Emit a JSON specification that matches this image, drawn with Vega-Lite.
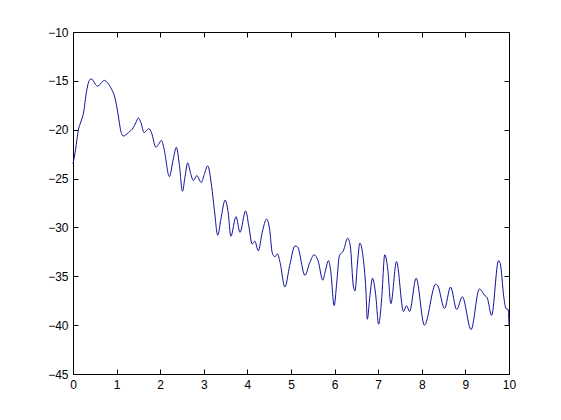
{
  "$schema": "https://vega.github.io/schema/vega-lite/v6.json",
  "autosize": "none",
  "width": 436,
  "height": 342,
  "padding": {"left": 73, "top": 32, "right": 52, "bottom": 46},
  "background": "white",
  "config": {
    "view": {"stroke": "black", "strokeWidth": 1},
    "axis": {
      "domain": false,
      "grid": false,
      "ticks": true,
      "tickColor": "black",
      "tickSize": -5,
      "labelPadding": 10,
      "labelFlush": false,
      "labelOverlap": false,
      "labelFont": "Liberation Sans",
      "labelFontSize": 12,
      "labelColor": "black",
      "title": null
    }
  },
  "data": {
    "values": [
      {"x": 0, "y": -23.5}, {"x": 0.06, "y": -22.0}, {"x": 0.12, "y": -20.1}, {"x": 0.18, "y": -19.2},
      {"x": 0.24, "y": -18.3}, {"x": 0.31, "y": -16.1}, {"x": 0.36, "y": -15.1}, {"x": 0.41, "y": -14.8},
      {"x": 0.46, "y": -14.95}, {"x": 0.52, "y": -15.4}, {"x": 0.57, "y": -15.55}, {"x": 0.63, "y": -15.3},
      {"x": 0.72, "y": -14.95}, {"x": 0.79, "y": -15.2}, {"x": 0.89, "y": -15.9}, {"x": 0.96, "y": -16.7},
      {"x": 1.04, "y": -18.6}, {"x": 1.09, "y": -20.0}, {"x": 1.15, "y": -20.65}, {"x": 1.27, "y": -20.3},
      {"x": 1.38, "y": -19.8}, {"x": 1.44, "y": -19.3}, {"x": 1.5, "y": -18.8}, {"x": 1.56, "y": -19.3},
      {"x": 1.63, "y": -20.3}, {"x": 1.68, "y": -20.1}, {"x": 1.74, "y": -19.9}, {"x": 1.8, "y": -20.3},
      {"x": 1.9, "y": -21.8}, {"x": 1.96, "y": -21.5}, {"x": 2.03, "y": -21.1}, {"x": 2.09, "y": -22.0},
      {"x": 2.21, "y": -24.8}, {"x": 2.3, "y": -23.0}, {"x": 2.37, "y": -21.8}, {"x": 2.44, "y": -23.6},
      {"x": 2.51, "y": -26.3}, {"x": 2.57, "y": -24.8}, {"x": 2.63, "y": -23.4}, {"x": 2.7, "y": -24.5},
      {"x": 2.76, "y": -25.2}, {"x": 2.84, "y": -24.7}, {"x": 2.94, "y": -25.4}, {"x": 3.01, "y": -24.6},
      {"x": 3.09, "y": -23.7}, {"x": 3.18, "y": -25.8}, {"x": 3.24, "y": -28.1}, {"x": 3.32, "y": -30.8},
      {"x": 3.39, "y": -29.2}, {"x": 3.49, "y": -27.2}, {"x": 3.56, "y": -28.5}, {"x": 3.62, "y": -30.9},
      {"x": 3.74, "y": -28.9}, {"x": 3.83, "y": -30.5}, {"x": 3.96, "y": -28.3}, {"x": 4.03, "y": -29.8},
      {"x": 4.11, "y": -31.7}, {"x": 4.17, "y": -31.4}, {"x": 4.25, "y": -32.4}, {"x": 4.34, "y": -30.5},
      {"x": 4.44, "y": -29.15}, {"x": 4.51, "y": -30.2}, {"x": 4.57, "y": -32.6}, {"x": 4.63, "y": -33.0},
      {"x": 4.69, "y": -32.7}, {"x": 4.75, "y": -33.6}, {"x": 4.86, "y": -36.1}, {"x": 4.97, "y": -33.9},
      {"x": 5.09, "y": -31.9}, {"x": 5.15, "y": -32.0}, {"x": 5.32, "y": -34.9}, {"x": 5.43, "y": -33.6},
      {"x": 5.53, "y": -32.8}, {"x": 5.62, "y": -33.4}, {"x": 5.73, "y": -35.4}, {"x": 5.78, "y": -34.6},
      {"x": 5.86, "y": -33.4}, {"x": 5.91, "y": -34.4}, {"x": 5.99, "y": -38.0}, {"x": 6.05, "y": -35.6},
      {"x": 6.11, "y": -32.9}, {"x": 6.2, "y": -32.4}, {"x": 6.3, "y": -31.1}, {"x": 6.36, "y": -31.9},
      {"x": 6.43, "y": -36.0}, {"x": 6.47, "y": -36.5}, {"x": 6.52, "y": -33.9}, {"x": 6.58, "y": -31.6},
      {"x": 6.64, "y": -32.6}, {"x": 6.72, "y": -36.6}, {"x": 6.75, "y": -39.4}, {"x": 6.81, "y": -37.0},
      {"x": 6.87, "y": -35.2}, {"x": 6.94, "y": -36.8}, {"x": 7.01, "y": -39.9}, {"x": 7.08, "y": -37.3},
      {"x": 7.15, "y": -32.8}, {"x": 7.22, "y": -34.3}, {"x": 7.29, "y": -37.8}, {"x": 7.42, "y": -33.5},
      {"x": 7.58, "y": -38.6}, {"x": 7.65, "y": -38.0}, {"x": 7.72, "y": -38.6}, {"x": 7.87, "y": -35.2},
      {"x": 8.06, "y": -40.0}, {"x": 8.32, "y": -35.8}, {"x": 8.37, "y": -36.0}, {"x": 8.52, "y": -38.3},
      {"x": 8.66, "y": -36.1}, {"x": 8.8, "y": -38.4}, {"x": 8.93, "y": -37.1}, {"x": 9.13, "y": -40.45},
      {"x": 9.32, "y": -36.3}, {"x": 9.45, "y": -37.0}, {"x": 9.5, "y": -37.2}, {"x": 9.6, "y": -39.0},
      {"x": 9.76, "y": -33.4}, {"x": 9.8, "y": -33.7}, {"x": 9.88, "y": -37.1}, {"x": 9.93, "y": -38.3},
      {"x": 9.98, "y": -38.4}, {"x": 10, "y": -40.0}
    ]
  },
  "layer": [
    {
      "mark": {"type": "line", "color": "#10109a", "strokeWidth": 1, "interpolate": "monotone"},
      "encoding": {
        "x": {"field": "x", "type": "quantitative", "scale": {"domain": [0, 10], "nice": false, "zero": false},
              "axis": {"orient": "bottom", "values": [0,1,2,3,4,5,6,7,8,9,10]}},
        "y": {"field": "y", "type": "quantitative", "scale": {"domain": [-45, -10], "nice": false, "zero": false},
              "axis": {"orient": "left", "values": [-45,-40,-35,-30,-25,-20,-15,-10]}}
      }
    },
    {
      "mark": {"type": "line", "opacity": 0},
      "encoding": {
        "x": {"field": "x", "type": "quantitative", "scale": {"domain": [0, 10], "nice": false, "zero": false},
              "axis": {"orient": "top", "labels": false, "values": [0,1,2,3,4,5,6,7,8,9,10]}},
        "y": {"field": "y", "type": "quantitative", "scale": {"domain": [-45, -10], "nice": false, "zero": false},
              "axis": {"orient": "right", "labels": false, "values": [-45,-40,-35,-30,-25,-20,-15,-10]}}
      }
    }
  ],
  "resolve": {"axis": {"x": "independent", "y": "independent"}}
}
